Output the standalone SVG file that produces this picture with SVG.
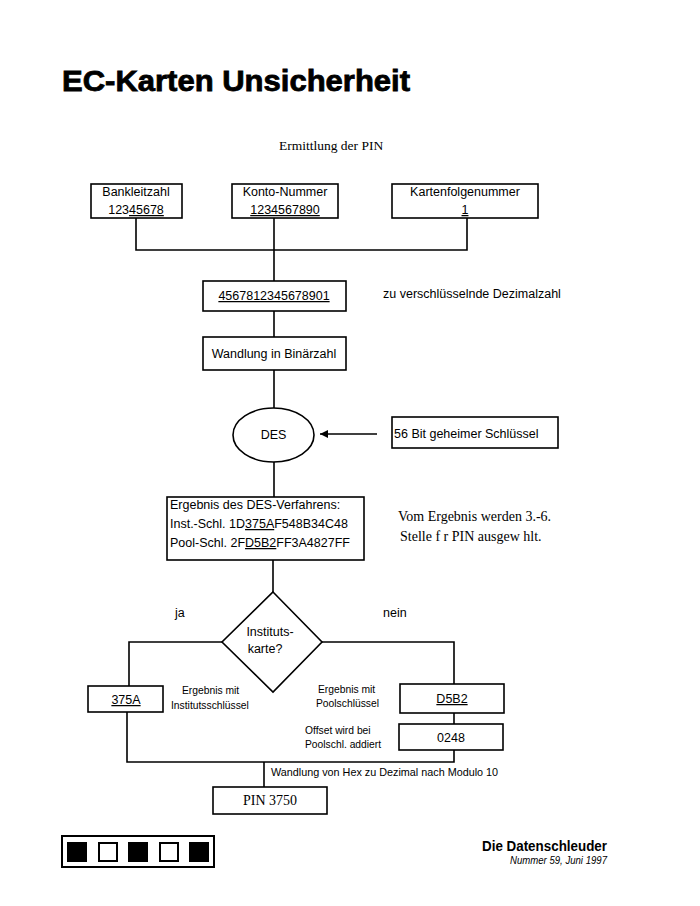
<svg xmlns="http://www.w3.org/2000/svg" width="700" height="906" viewBox="0 0 700 906">
<style>
.box{fill:#fff;stroke:#000;stroke-width:1.6}
.ln{fill:none;stroke:#000;stroke-width:1.6}
.s{font-family:"Liberation Sans",Arial,sans-serif;fill:#000}
.t{font-family:"Liberation Serif","Times New Roman",serif;fill:#000}
.m{font-size:12.5px}
.sm{font-size:10.3px}
.u{text-decoration:underline}
</style>
<defs>
<marker id="ah" viewBox="0 0 10 10" refX="10" refY="5" markerWidth="10" markerHeight="8" markerUnits="userSpaceOnUse" orient="auto">
<path d="M0,0 L10,5 L0,10 z" fill="#000"/>
</marker>
</defs>
<rect width="700" height="906" fill="#fff"/>
<text class="s" x="62" y="91" font-size="29" font-weight="bold" stroke="#000" stroke-width="0.8" textLength="348" lengthAdjust="spacingAndGlyphs">EC-Karten Unsicherheit</text>
<text class="t" x="279" y="150" font-size="13.5">Ermittlung der PIN</text>

<g id="connectors">
<path class="ln" d="M136,218 V250 H467 V218"/>
<path class="ln" d="M274,218 V281"/>
<path class="ln" d="M274,311 V337"/>
<path class="ln" d="M274,370 V408"/>
<path class="ln" d="M274,462 V497"/>
<path class="ln" d="M377,434 H320" marker-end="url(#ah)"/>
<path class="ln" d="M273,560 V592"/>
<path class="ln" d="M222,642 H129 V686"/>
<path class="ln" d="M321,642 H454 V684"/>
<path class="ln" d="M454,713 V724"/>
<path class="ln" d="M127,712 V762 H454 V750"/>
<path class="ln" d="M264,762 V787"/>
</g>

<g id="bankleitzahl">
<rect class="box" x="91" y="184" width="91" height="34"/>
<text class="s m" x="136" y="196" text-anchor="middle">Bankleitzahl</text>
<text class="s m" x="136" y="214" text-anchor="middle">123<tspan class="u">45678</tspan></text>
</g>
<g id="konto">
<rect class="box" x="232" y="184" width="106" height="34"/>
<text class="s m" x="285" y="196" text-anchor="middle">Konto-Nummer</text>
<text class="s m u" x="285" y="214" text-anchor="middle">1234567890</text>
</g>
<g id="kartenfolge">
<rect class="box" x="392" y="184" width="146" height="34"/>
<text class="s m" x="465" y="196" text-anchor="middle">Kartenfolgenummer</text>
<text class="s m u" x="465" y="214" text-anchor="middle">1</text>
</g>
<g id="dezimal">
<rect class="box" x="203" y="281" width="143" height="30"/>
<text class="s m u" x="274" y="300" text-anchor="middle" font-size="13">4567812345678901</text>
<text class="s m" x="383" y="298">zu verschlüsselnde Dezimalzahl</text>
</g>
<g id="binaer">
<rect class="box" x="203" y="337" width="143" height="33"/>
<text class="s m" x="274" y="358" text-anchor="middle">Wandlung in Binärzahl</text>
</g>
<g id="des">
<ellipse class="box" cx="273.5" cy="435" rx="40.5" ry="27"/>
<text class="s m" x="273.5" y="439" text-anchor="middle">DES</text>
</g>
<g id="schluessel">
<rect class="box" x="392" y="417" width="166" height="31"/>
<text class="s m" x="394" y="438">56 Bit geheimer Schlüssel</text>
</g>
<g id="ergebnis">
<rect class="box" x="167" y="497" width="197" height="63"/>
<text class="s m" x="170" y="509">Ergebnis des DES-Verfahrens:</text>
<text class="s m" x="170" y="528">Inst.-Schl. 1D<tspan class="u">375A</tspan>F548B34C48</text>
<text class="s m" x="170" y="547">Pool-Schl. 2F<tspan class="u">D5B2</tspan>FF3A4827FF</text>
<text class="t" x="398" y="521" font-size="14">Vom Ergebnis werden 3.-6.</text>
<text class="t" x="400" y="541" font-size="14">Stelle f r PIN ausgew hlt.</text>
</g>
<g id="entscheidung">
<polygon class="box" points="273,592 322,642 273,692 222,642"/>
<text class="s m" x="270" y="636" text-anchor="middle">Instituts-</text>
<text class="s m" x="265" y="653" text-anchor="middle">karte?</text>
<text class="s m" x="175" y="617">ja</text>
<text class="s m" x="383" y="617">nein</text>
</g>
<g id="inst">
<rect class="box" x="88" y="686" width="75" height="26"/>
<text class="s m u" x="126" y="704" text-anchor="middle">375A</text>
<text class="s sm" x="182" y="694">Ergebnis mit</text>
<text class="s sm" x="171" y="709">Institutsschlüssel</text>
</g>
<g id="pool">
<rect class="box" x="400" y="684" width="104" height="29"/>
<text class="s m u" x="452" y="703" text-anchor="middle">D5B2</text>
<text class="s sm" x="318" y="693">Ergebnis mit</text>
<text class="s sm" x="316" y="707">Poolschlüssel</text>
</g>
<g id="offset">
<rect class="box" x="399" y="724" width="104" height="26"/>
<text class="s m" x="451" y="742" text-anchor="middle">0248</text>
<text class="s sm" x="305" y="734">Offset wird bei</text>
<text class="s sm" x="305" y="748">Poolschl. addiert</text>
</g>
<g id="pin">
<text class="s" x="271" y="776" font-size="10.8">Wandlung von Hex zu Dezimal nach Modulo 10</text>
<rect class="box" x="213" y="787" width="114" height="27"/>
<text class="t" x="270" y="805" font-size="14" text-anchor="middle">PIN 3750</text>
</g>

<g id="footer">
<rect x="62" y="836" width="152" height="31" fill="#fff" stroke="#000" stroke-width="2"/>
<rect x="67" y="842" width="20" height="20" fill="#000"/>
<rect x="99" y="843" width="18" height="18" fill="#fff" stroke="#000" stroke-width="2"/>
<rect x="128" y="842" width="20" height="20" fill="#000"/>
<rect x="160" y="843" width="18" height="18" fill="#fff" stroke="#000" stroke-width="2"/>
<rect x="189" y="842" width="20" height="20" fill="#000"/>
<text class="s" x="482" y="851" font-size="14" font-weight="bold" textLength="125" lengthAdjust="spacingAndGlyphs">Die Datenschleuder</text>
<text class="s" x="510" y="864" font-size="10.5" font-style="italic" textLength="97" lengthAdjust="spacingAndGlyphs">Nummer 59, Juni 1997</text>
</g>
</svg>
